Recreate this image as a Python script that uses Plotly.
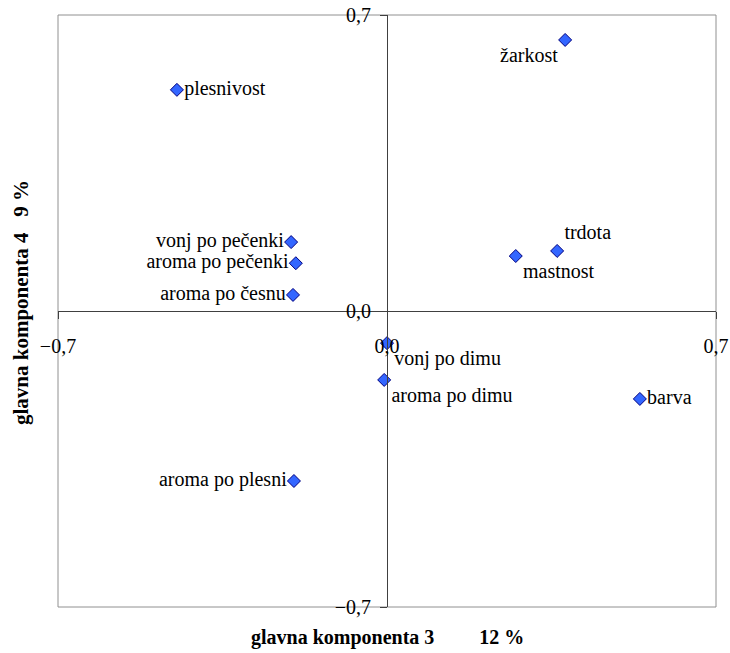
import plotly.graph_objects as go

labels = ["žarkost", "plesnivost", "vonj po pečenki", "aroma po pečenki", "aroma po česnu",
          "trdota", "mastnost", "vonj po dimu", "aroma po dimu", "barva", "aroma po plesni"]
pc3 = [0.379, -0.447, -0.204, -0.194, -0.200, 0.362, 0.274, 0.000, -0.006, 0.538, -0.198]
pc4 = [0.641, 0.523, 0.163, 0.113, 0.038, 0.142, 0.130, -0.076, -0.163, -0.208, -0.402]
positions = ["bottom left", "middle right", "middle left", "middle left", "middle left",
             "top right", "bottom right", "bottom right", "bottom right", "middle right", "middle left"]
tick_vals = [-0.7, 0.0, 0.7]
x_title = "glavna komponenta 3         12 %"
y_title = "glavna komponenta 4   9 %"

font_family = "Times New Roman"

fig = go.Figure()
fig.add_trace(go.Scatter(
    x=pc3, y=pc4, mode="markers+text", text=labels, textposition=positions,
    textfont=dict(family=font_family, size=20, color="black"),
    marker=dict(symbol="diamond", size=10, color="#3366ff", line=dict(color="#000080", width=1)),
    showlegend=False, cliponaxis=False, hoverinfo="skip",
))

axis_common = dict(
    range=[-0.7, 0.7], tickvals=tick_vals, tickformat=".1f",
    showgrid=False, zeroline=False, showline=True, linecolor="#404040", linewidth=1,
    ticks="outside", ticklen=7, tickcolor="#404040",
    tickfont=dict(family=font_family, size=20, color="black"),
    anchor="free", position=0.5, automargin=False,
)
fig.update_xaxes(**axis_common, ticklabelstandoff=10)
fig.update_yaxes(**axis_common, ticklabelstandoff=5)

fig.add_shape(type="rect", xref="paper", yref="paper", x0=0, y0=0, x1=1, y1=1,
              line=dict(color="#909090", width=1), layer="below")

fig.add_annotation(text=x_title, xref="paper", yref="paper", x=0.5, y=0, yshift=-30,
                   yanchor="middle", showarrow=False,
                   font=dict(family=font_family, size=20, color="black", weight="bold"))
fig.add_annotation(text=y_title, xref="paper", yref="paper", x=0, xshift=-37, y=0.5, yshift=8,
                   textangle=-90, xanchor="center", showarrow=False,
                   font=dict(family=font_family, size=21, color="black", weight="bold"))

fig.update_layout(
    width=730, height=653, separators=", ",
    margin=dict(l=58, r=14, t=15, b=46, autoexpand=False),
    plot_bgcolor="white", paper_bgcolor="white",
    font=dict(family=font_family),
)
# remove the default 8px page margin so the figure fills the window exactly
fig.write_html("out.html", config={"displayModeBar": False},
               post_script="document.body.style.margin='0';document.body.style.overflow='hidden';")
